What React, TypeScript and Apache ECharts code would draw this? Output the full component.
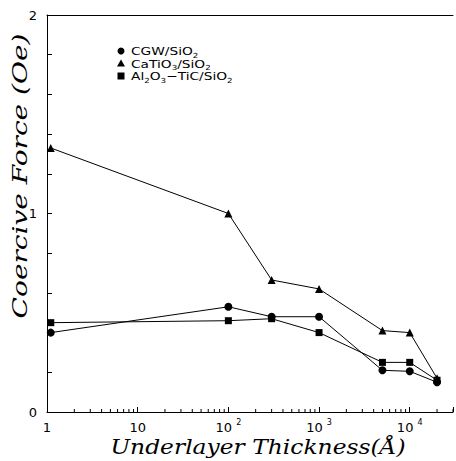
import React, { useEffect, useRef } from "react";
import * as echarts from "echarts";

const thickness = [1.1, 100, 300, 1000, 5000, 10000, 20000];
const cgw = [0.40, 0.53, 0.48, 0.48, 0.21, 0.205, 0.15];
const catio3 = [1.33, 1.0, 0.665, 0.62, 0.41, 0.40, 0.17];
const altic = [0.45, 0.46, 0.47, 0.40, 0.25, 0.25, 0.16];
const seriesNames = ["CGW/SiO2", "CaTiO3/SiO2", "Al2O3-TiC/SiO2"];
const legendRich = [
  "{a|CGW/SiO}{b|2}",
  "{a|CaTiO}{b|3}{a|/SiO}{b|2}",
  "{a|Al}{b|2}{a|O}{b|3}{a|−TiC/SiO}{b|2}",
];
const xTickLabels: Record<number, string> = {
  1: "{n|1}",
  10: "{n|10}",
  100: "{n|10 }{s|2}",
  1000: "{n|10 }{s|3}",
  10000: "{n|10 }{s|4}",
};
const minorTicks: number[] = [];
[1, 10, 100, 1000, 10000].forEach((d) => {
  for (let m = 2; m <= 9; m++) {
    if (d * m <= 30000) minorTicks.push(d * m);
  }
});
const yLabels: Record<string, string> = { "0": "0", "1": "1", "2": "2" };

export default function App() {
  const ref = useRef<HTMLDivElement>(null);
  useEffect(() => {
    document.body.style.margin = "0";
    const chart = echarts.init(ref.current!, null, { renderer: "svg" });
    const mk = (name: string, data: number[], symbol: string, size: number) => ({
      name,
      type: "line",
      data: thickness.map((t, i) => [t, data[i]]),
      symbol,
      symbolSize: size,
      showSymbol: true,
      lineStyle: { color: "#000", width: 1 },
      itemStyle: { color: "#000" },
      z: 3,
    });
    const richLegend = {
      a: { fontFamily: "DejaVu Sans", fontSize: 11, lineHeight: 12, fill: "#000", verticalAlign: "bottom" },
      b: { fontFamily: "DejaVu Sans", fontSize: 7, lineHeight: 12, fill: "#000", verticalAlign: "bottom", padding: [0, 0, -2, 0] },
    };
    const legendRow = (i: number, shape: any) => ({
      type: "group",
      x: 121,
      y: 51 + i * 12.5,
      children: [
        shape,
        {
          type: "text",
          x: 10,
          y: 0,
          scaleX: 1.25,
          style: {
            text: legendRich[i],
            rich: richLegend,
            verticalAlign: "middle",
            align: "left",
            fill: "#000",
          },
        },
      ],
    });
    chart.setOption({
      animation: false,
      backgroundColor: "#fff",
      grid: { left: 47, top: 15, width: 412, height: 397, containLabel: false },
      xAxis: [
        {
          type: "log",
          logBase: 10,
          min: 1,
          max: 30000,
          axisLine: { show: true, lineStyle: { color: "#000", width: 1 } },
          axisTick: { show: true, inside: true, length: 5, lineStyle: { color: "#000" } },
          splitLine: { show: false },
          axisLabel: {
            color: "#000",
            fontFamily: "DejaVu Sans",
            fontSize: 13,
            margin: 6,
            formatter: (v: number) => {
              const k = Math.round(v);
              return xTickLabels[k] !== undefined && Math.abs(v - k) < 1e-6 ? xTickLabels[k] : "";
            },
            rich: {
              n: { fontFamily: "DejaVu Sans", fontSize: 13, lineHeight: 16, color: "#000", verticalAlign: "bottom" },
              s: { fontFamily: "DejaVu Sans", fontSize: 8, lineHeight: 9, color: "#000", verticalAlign: "top" },
            },
          },
        },
        {
          type: "log",
          logBase: 10,
          min: 1,
          max: 30000,
          position: "top",
          axisLine: { show: true, lineStyle: { color: "#000", width: 1 } },
          axisTick: { show: false },
          axisLabel: { show: false },
          splitLine: { show: false },
        },
      ],
      yAxis: {
        type: "value",
        min: 0,
        max: 2,
        interval: 0.2,
        axisLine: { show: true, lineStyle: { color: "#000", width: 1 } },
        axisTick: { show: true, inside: true, length: 5, lineStyle: { color: "#000" } },
        splitLine: { show: false },
        axisLabel: {
          color: "#000",
          fontFamily: "DejaVu Sans",
          fontSize: 13,
          margin: 10,
          formatter: (v: number) => yLabels[String(Math.round(v * 10) / 10)] ?? "",
        },
      },
      graphic: [
        {
          type: "text",
          x: 20,
          y: 176,
          rotation: Math.PI / 2,
          scaleX: 1.4,
          style: {
            text: "Coercive Force (Oe)",
            align: "center",
            verticalAlign: "middle",
            font: "italic 20px 'DejaVu Serif'",
            fill: "#000",
          },
        },
        {
          type: "text",
          x: 258,
          y: 447,
          scaleX: 1.17,
          style: {
            text: "Underlayer Thickness(Å)",
            align: "center",
            verticalAlign: "middle",
            font: "italic 20px 'DejaVu Serif'",
            fill: "#000",
          },
        },
        legendRow(0, { type: "circle", shape: { cx: 0, cy: 0, r: 3.5 }, style: { fill: "#000" } }),
        legendRow(1, { type: "polygon", shape: { points: [[0, -4], [4, 3], [-4, 3]] }, style: { fill: "#000" } }),
        legendRow(2, { type: "rect", shape: { x: -3.5, y: -3.5, width: 7, height: 7 }, style: { fill: "#000" } }),
      ],
      series: [
        mk(seriesNames[0], cgw, "circle", 8),
        mk(seriesNames[1], catio3, "triangle", 8),
        mk(seriesNames[2], altic, "rect", 7),
        {
          name: "minor",
          type: "custom",
          silent: true,
          clip: false,
          data: minorTicks.map((v) => [v, 0]),
          renderItem: (params: any, api: any) => {
            const p = api.coord([api.value(0), 0]);
            return {
              type: "line",
              shape: { x1: p[0], y1: p[1], x2: p[0], y2: p[1] - 3 },
              style: { stroke: "#000", lineWidth: 1 },
            };
          },
        },
      ],
    });
    return () => chart.dispose();
  }, []);
  return <div ref={ref} style={{ width: 456, height: 461 }} />;
}
